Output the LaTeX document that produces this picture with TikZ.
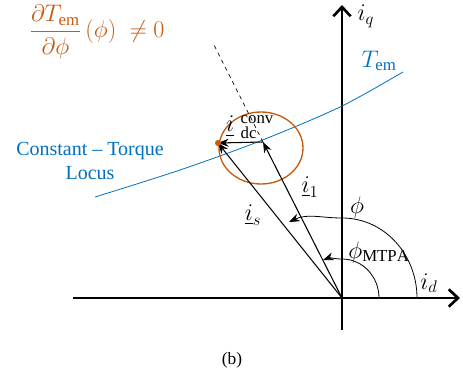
\RequirePackage{fix-cm}
\documentclass[tikz,border=0pt]{standalone}
\usepackage{amsmath}
\usepackage{fontspec}
\setmainfont{Liberation Serif}
\usetikzlibrary{arrows.meta}
\definecolor{torqueblue}{RGB}{0,112,192}
\definecolor{circorange}{RGB}{197,90,17}

\begin{document}
\begin{tikzpicture}[x=0.75pt, y=0.75pt, font=\fontsize{15}{18}\selectfont,
    lab/.style={font=\fontsize{18}{22}\selectfont},
    axis/.style={line width=2pt, -{Straight Barb[length=7pt,width=13pt,line width=2pt]}},
    vec/.style={line width=0.8pt, -{Stealth[length=8pt,width=6pt]}},
    ang/.style={line width=0.6pt, -{Stealth[length=8pt,width=6pt]}}]
    \useasboundingbox (0,0) rectangle (463,387);

    % axes
    \coordinate (O)  at (342,89);
    \coordinate (dL) at (73,89);
    \coordinate (dR) at (460,89);
    \coordinate (qB) at (342,57);
    \coordinate (qT) at (342,382);
    \draw[axis] (dL) -- (dR);
    \draw[axis] (qB) -- (qT);
    \node[lab] (id) at (429,104) {$i_d$};
    \node[lab] (iq) at (366,371) {$i_q$};

    % constant-torque locus
    \draw[torqueblue, line width=0.6pt] plot[smooth] coordinates
        {(95,190) (180,217) (260,246) (340,280) (403,315)};
    \node[lab, text=torqueblue] (Tem) at (379,326) {$T_{\mathrm{em}}$};
    \node[text=torqueblue, align=center] (locus) at (90,226) {Constant -- Torque\\Locus};

    % converter circle
    \draw[circorange, line width=1pt] (261,239) ellipse [x radius=42, y radius=36];

    % current vectors
    \coordinate (s)   at (218,244);
    \coordinate (one) at (263,245);
    \coordinate (ext) at (214,342);
    \draw[dashed, line width=0.5pt] (one) -- (ext);
    \draw[vec] (O) -- (s);
    \draw[vec] (O) -- (one);
    \draw[vec] (one) -- (s);
    \fill[circorange] (s) circle (3);
    \node[lab] (is)  at (253,172) {$\underline{i}_s$};
    \node[lab] (i1)  at (310,200) {$\underline{i}_1$};
    \node[lab, inner sep=0pt] (idc) at (250,260)
        {$\underline{i}\hspace{5pt}^{\text{conv}}_{\text{dc}}$};

    % angles
    \coordinate (a1)  at (417,89);
    \coordinate (a1t) at (342,169);
    \coordinate (a1e) at (289,165);
    \coordinate (a2)  at (379,89);
    \coordinate (a2t) at (342,128);
    \coordinate (a2e) at (323,127);
    \draw[ang] (a1) to[out=90,in=0] (a1t) to[out=180,in=25] (a1e);
    \draw[ang] (a2) to[out=90,in=0] (a2t) to[out=180,in=20] (a2e);
    \node[lab] (phi)  at (357,180) {$\phi$};
    \node[lab] (mtpa) at (379,135) {$\phi_{\mathrm{MTPA}}$};

    % condition
    \node[lab, text=circorange] (cond) at (97,355)
        {$\dfrac{\partial T_{\mathrm{em}}}{\partial\phi}\,(\phi)\;\neq 0$};

    \node[font=\fontsize{13}{15}\selectfont] (cap) at (232,27) {(b)};
\end{tikzpicture}
\end{document}
